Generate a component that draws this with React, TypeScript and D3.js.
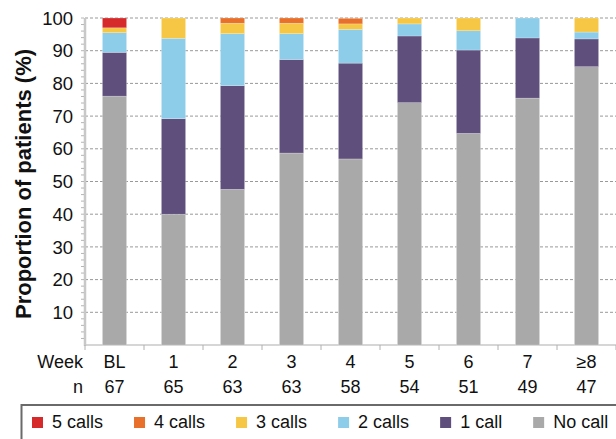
import { useEffect, useRef } from "react";
import * as d3 from "d3";

const weeks = ["BL", "1", "2", "3", "4", "5", "6", "7", "≥8"];
const counts = [67, 65, 63, 63, 58, 54, 51, 49, 47];

// % of patients per week, per number of calls
const noCall = [76.1, 40.0, 47.6, 58.7, 56.9, 74.1, 64.7, 75.5, 85.1];
const oneCall = [13.4, 29.2, 31.7, 28.6, 29.3, 20.4, 25.5, 18.4, 8.5];
const twoCalls = [6.0, 24.6, 15.9, 7.9, 10.3, 3.7, 5.9, 6.1, 2.1];
const threeCalls = [1.5, 6.2, 3.2, 3.2, 1.7, 1.8, 3.9, 0, 4.3];
const fourCalls = [0, 0, 1.6, 1.6, 1.7, 0, 0, 0, 0];
const fiveCalls = [3.0, 0, 0, 0, 0, 0, 0, 0, 0];

const seriesNames = ["No call", "1 call", "2 calls", "3 calls", "4 calls", "5 calls"];
const legendOrder = ["5 calls", "4 calls", "3 calls", "2 calls", "1 call", "No call"];
const yTicks = [10, 20, 30, 40, 50, 60, 70, 80, 90, 100];

const colors: any = {
    "No call": "#a9a9a9",
    "1 call": "#5f4f7c",
    "2 calls": "#8ecde9",
    "3 calls": "#f6c744",
    "4 calls": "#e8702a",
    "5 calls": "#d62a2a",
};

const App = () => {
    const ref: any = useRef<SVGSVGElement>(null);

    useEffect(() => {
        const left = 85;
        const right = 616 + 59;
        const top = 18;
        const bottom = 345;

        const svg = d3.select(ref.current);
        svg.selectAll("*").remove();

        const rows = weeks.map((w, i) => ({
            week: w,
            "No call": noCall[i],
            "1 call": oneCall[i],
            "2 calls": twoCalls[i],
            "3 calls": threeCalls[i],
            "4 calls": fourCalls[i],
            "5 calls": fiveCalls[i],
        }));

        const x = d3.scaleBand().domain(weeks).range([left, left + 59 * 9]).paddingInner(0.59).paddingOuter(0.295);
        const y = d3.scaleLinear().domain([0, 100]).range([bottom, top]);

        // gridlines
        svg.append("g")
            .selectAll("line")
            .data(yTicks)
            .join("line")
            .attr("x1", left)
            .attr("x2", right)
            .attr("y1", (d) => y(d))
            .attr("y2", (d) => y(d))
            .attr("stroke", "#999")
            .attr("stroke-width", 1)
            .attr("stroke-dasharray", "3,2");

        // y axis
        const yAxis = svg.append("g").attr("transform", `translate(${left},0)`);
        yAxis.append("line")
            .attr("x1", 0).attr("x2", 0)
            .attr("y1", top).attr("y2", bottom + 1)
            .attr("stroke", "#c8c8c8").attr("stroke-width", 2.5);
        yAxis.selectAll("line.minor")
            .data(d3.range(2, 101, 2))
            .join("line")
            .attr("class", "minor")
            .attr("x1", -4).attr("x2", -1)
            .attr("y1", (d) => y(d)).attr("y2", (d) => y(d))
            .attr("stroke", "#b5b5b5").attr("stroke-width", 1);
        yAxis.selectAll("text")
            .data(yTicks)
            .join("text")
            .attr("x", -12)
            .attr("y", (d) => y(d))
            .attr("dy", "0.36em")
            .attr("text-anchor", "end")
            .attr("font-size", 18.5)
            .attr("fill", "#111")
            .text((d) => d);

        svg.append("text")
            .attr("transform", `translate(31,184) rotate(-90)`)
            .attr("text-anchor", "middle")
            .attr("font-size", 22)
            .attr("font-weight", "bold")
            .attr("fill", "#111")
            .text("Proportion of patients (%)");

        // x axis
        svg.append("line")
            .attr("x1", left).attr("x2", right)
            .attr("y1", bottom).attr("y2", bottom)
            .attr("stroke", "#c8c8c8").attr("stroke-width", 1.5);
        svg.append("g")
            .selectAll("line")
            .data(d3.range(0, 10))
            .join("line")
            .attr("x1", (i) => left + x.step() * i)
            .attr("x2", (i) => left + x.step() * i)
            .attr("y1", bottom)
            .attr("y2", bottom + 5)
            .attr("stroke", "#b0b0b0");

        // bars
        const stack = d3.stack().keys(seriesNames);
        const stacked = stack(rows as any);
        svg.append("g")
            .selectAll("g")
            .data(stacked)
            .join("g")
            .attr("fill", (d: any) => colors[d.key])
            .selectAll("rect")
            .data((d: any) => d)
            .join("rect")
            .attr("x", (d: any) => x(d.data.week) as number)
            .attr("width", x.bandwidth())
            .attr("y", (d: any) => y(d[1]))
            .attr("height", (d: any) => y(d[0]) - y(d[1]))
            .attr("stroke", "#ffffff")
            .attr("stroke-opacity", 0.35)
            .attr("stroke-width", 0.6);

        // category labels
        svg.append("text").attr("x", 83).attr("y", 368).attr("text-anchor", "end")
            .attr("font-size", 18).attr("fill", "#111").text("Week");
        svg.append("text").attr("x", 83).attr("y", 393).attr("text-anchor", "end")
            .attr("font-size", 18).attr("fill", "#111").text("n");
        svg.append("g").selectAll("text").data(weeks).join("text")
            .attr("x", (d) => (x(d) as number) + x.bandwidth() / 2)
            .attr("y", 368)
            .attr("text-anchor", "middle")
            .attr("font-size", 18).attr("fill", "#111")
            .text((d) => d);
        svg.append("g").selectAll("text").data(counts).join("text")
            .attr("x", (d, i) => (x(weeks[i]) as number) + x.bandwidth() / 2)
            .attr("y", 393)
            .attr("text-anchor", "middle")
            .attr("font-size", 18).attr("fill", "#111")
            .text((d) => d);

        // legend
        svg.append("rect")
            .attr("x", 21.5).attr("y", 405)
            .attr("width", 640).attr("height", 60)
            .attr("fill", "none")
            .attr("stroke", "#6a6a6a").attr("stroke-width", 2);
        const items = svg.append("g").selectAll("g").data(legendOrder).join("g");
        items.append("rect")
            .attr("width", 11).attr("height", 11)
            .attr("fill", (d) => colors[d]);
        items.append("text")
            .attr("x", 20).attr("y", 11)
            .attr("font-size", 18).attr("fill", "#111")
            .text((d) => d);
        let cx = 32;
        items.each(function () {
            const g = d3.select(this as any);
            g.attr("transform", `translate(${cx},417)`);
            const w = (g.select("text").node() as any).getComputedTextLength();
            cx += 20 + w + 31;
        });
    }, []);

    return (
        <div style={{ position: "fixed", left: 0, top: 0, width: 616, height: 439, background: "#fff" }}>
            <svg ref={ref} width={616} height={439} style={{ display: "block", fontFamily: "'Liberation Sans', Arial, sans-serif" }} />
        </div>
    );
};

export default App;
